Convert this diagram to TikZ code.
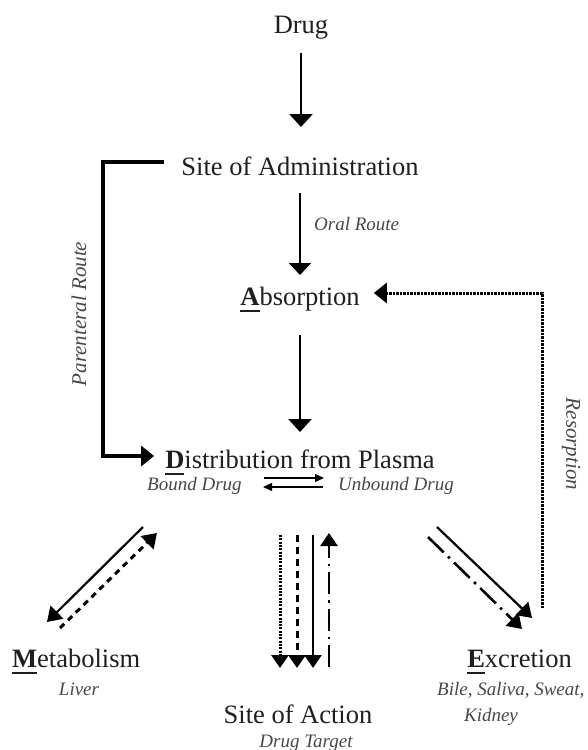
\documentclass[tikz,border=0pt]{standalone}
\usepackage{fontspec}
\setmainfont{Liberation Serif}
\usetikzlibrary{arrows.meta,calc}
\newcommand\firstlet[1]{\setbox0\hbox{\bfseries #1}\rlap{\rule[-7pt]{\wd0}{2pt}}\box0}
\begin{document}
\begin{tikzpicture}[x=1pt,y=-1pt,
  main/.style={inner sep=0pt, anchor=base, font=\fontsize{26.5}{30}\selectfont, text=black!88},
  lab/.style={inner sep=0pt, anchor=base, font=\fontsize{19}{22}\selectfont\itshape, text=black!72},
  rlab/.style={inner sep=0pt, font=\fontsize{21}{24}\selectfont\itshape, text=black!72},
  bigarr/.style={line width=2.6pt, -{Triangle[length=13pt,width=23pt]}},
  medarr/.style={line width=2pt, -{Triangle[length=12pt,width=22pt]}},
  parr/.style={line width=3.5pt, line join=miter, -{Triangle[length=13pt,width=20pt]}},
  resarr/.style={line width=3pt, line cap=butt, dash pattern=on 2.2pt off 1.3pt, -{Triangle[length=13pt,width=20pt]}},
  eqarr/.style={line width=1.3pt, -{Triangle[length=9pt,width=8pt]}},
  thinarr/.style={line width=2.2pt, -{Triangle[length=14pt,width=18pt]}},
  dotarr/.style={line width=3pt, dash pattern=on 2pt off 1.3pt, -{Triangle[length=13pt,width=17pt]}},
  dasharr/.style={line width=3pt, dash pattern=on 7pt off 5pt, -{Triangle[length=13pt,width=17pt]}},
  dasharrB/.style={line width=3pt, dash pattern=on 6pt off 5pt, -{Triangle[length=14pt,width=18pt]}},
  ddarr/.style={line width=2.6pt, dash pattern=on 22pt off 6pt on 2.5pt off 6pt, -{Triangle[length=13pt,width=17pt]}}
]
\useasboundingbox (0,0) rectangle (588,750);

% texts
\node[main] (drug) at (301,33) {Drug};
\node[main] (site) at (300,175) {Site of Administration};
\node[main] (absorp) at (300,305) {\firstlet{A}bsorption};
\node[main] (dist) at (300,468) {\firstlet{D}istribution from Plasma};
\node[lab, anchor=base west] (bound) at (147,490) {Bound Drug};
\node[lab, anchor=base east] (unbound) at (454,490) {Unbound Drug};
\node[lab, anchor=base west] (oral) at (314,230) {Oral Route};
\node[rlab, rotate=90] (parent) at (79,314) {Parenteral Route};
\node[rlab, rotate=-90] (resorp) at (571,444) {Resorption};
\node[main, anchor=base west] (metab) at (12,667) {\firstlet{M}etabolism};
\node[lab] (liver) at (79,695) {Liver};
\node[main] (action) at (298,723) {Site of Action};
\node[lab] (target) at (306,747) {Drug Target};
\node[main, anchor=base east] (excr) at (572,667) {\firstlet{E}xcretion};
\node[lab, anchor=base west] (bile) at (437,695) {Bile, Saliva, Sweat,};
\node[lab] (kidney) at (491,721) {Kidney};

% helper coordinates
\coordinate (pstart) at (164,162);
\coordinate (pc1) at (103,162);
\coordinate (pc2) at (103,456);
\coordinate (rstart) at (542,608);
\coordinate (rc) at (542,293);
\coordinate (eq1) at (264,478);
\coordinate (eq2) at (324,478);
\coordinate (eq3) at (323,487);
\coordinate (eq4) at (263,487);
\coordinate (m1) at (143,527);
\coordinate (m2) at (47,622);
\coordinate (m3) at (60,628);
\coordinate (m4) at (157,533);
\coordinate (e1) at (437,527);
\coordinate (e2) at (532,618);
\coordinate (e3) at (428,537);
\coordinate (e4) at (522,629);

% main vertical chain
\draw[bigarr] (drug |- 0,53) -- (drug |- 0,127);
\draw[medarr] (site |- 0,193) -- (site |- 0,275);
\draw[bigarr] (absorp |- 0,335) -- (absorp |- 0,432);

% parenteral route
\draw[parr] (pstart) -- (pc1) -- (pc2) -- (dist.west |- pc2) [shorten >=11pt];

% resorption
\draw[resarr] (rstart) -- (rc) -- (absorp.east |- rc) [shorten >=14pt];

% equilibrium
\draw[eqarr] (eq1) -- (eq2);
\draw[eqarr] (eq3) -- (eq4);

% metabolism
\draw[thinarr] (m1) -- (m2);
\draw[dasharrB] (m3) -- (m4);

% site of action
\draw[dotarr] (280,535) -- (280,668);
\draw[dasharr] (297,535) -- (297,668);
\draw[thinarr, -{Triangle[length=13pt,width=17pt]}] (313,535) -- (313,668);
\draw[ddarr] (329,667) -- (329,533);

% excretion
\draw[thinarr] (e1) -- (e2);
\draw[ddarr, -{Triangle[length=14pt,width=18pt]}] (e3) -- (e4);
\end{tikzpicture}
\end{document}
